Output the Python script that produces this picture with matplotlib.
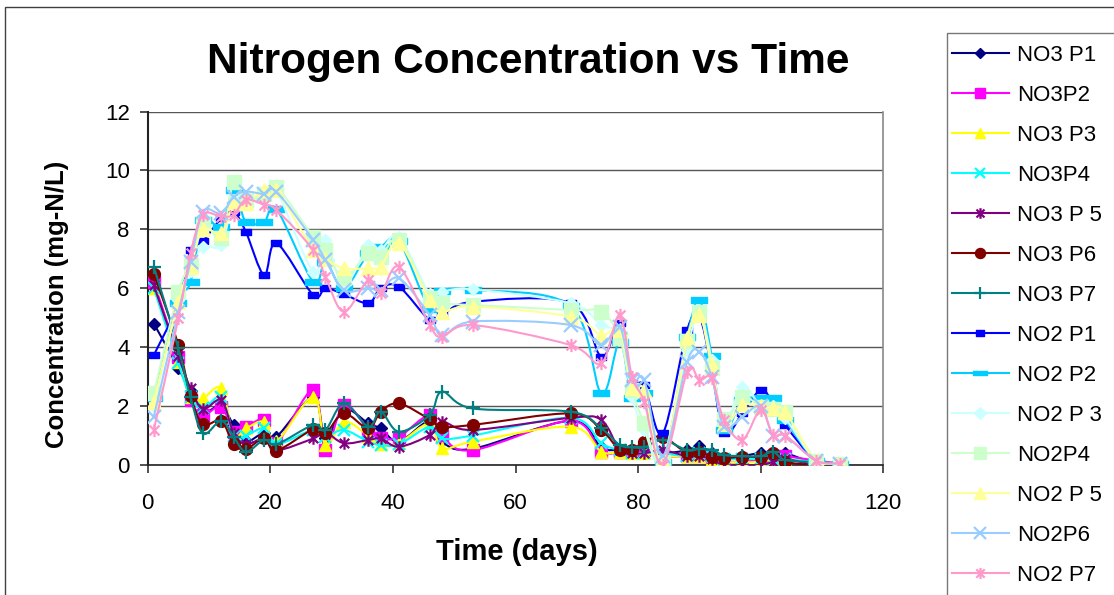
import numpy as np
import matplotlib
matplotlib.use("Agg")
import matplotlib.pyplot as plt
from matplotlib.path import Path
from matplotlib.patches import PathPatch, Rectangle
from matplotlib.lines import Line2D

plt.rcParams['font.family'] = ['Liberation Sans', 'DejaVu Sans']

# sampling days (shared by all series)
days = [1, 5, 7, 9, 12, 14, 16, 19, 21, 27, 29, 32, 36, 38, 41, 46, 48, 53,
        69, 74, 77, 79, 81, 84, 88, 90, 92, 94, 97, 100, 102, 104, 109, 113]

no3_p1 = [4.8, 3.3, 2.5, 1.8, 2.0, 1.36, 0.8, 1.1, 0.96, 2.3, 0.9, 1.9, 1.41, 1.24, 0.8, 1.5, 0.8, 0.55,
          1.5, 0.6, 0.5, 0.4, 0.5, 0.4, 0.5, 0.65, 0.4, 0.2, 0.3, 0.4, 0.3, 0.4, 0.05, 0.05]
no3_p2 = [6.2, 3.68, 2.2, 1.7, 1.98, 1.13, 1.3, 1.53, 0.74, 2.55, 0.51, 2.04, 1.2, 0.9, 0.96, 1.7, 1.0, 0.5,
          1.5, 0.45, 0.45, 0.45, 0.5, 0.3, 0.3, 0.3, 0.2, 0.1, 0.1, 0.2, 0.3, 0.3, 0.15, 0.05]
no3_p3 = [6.0, 3.51, 2.3, 2.26, 2.6, 1.0, 1.24, 1.47, 0.8, 2.32, 0.68, 1.47, 1.0, 0.7, 0.75, 1.41, 0.57, 0.79,
          1.3, 0.45, 0.45, 0.4, 0.4, 0.3, 0.3, 0.3, 0.2, 0.1, 0.1, 0.1, 0.2, 0.2, 0.1, 0.05]
no3_p4 = [6.0, 3.45, 2.3, 1.92, 2.3, 1.0, 1.0, 1.24, 0.7, 1.2, 0.96, 1.19, 0.79, 0.68, 0.7, 1.3, 0.9, 1.0,
          1.6, 0.74, 0.5, 0.4, 0.4, 0.4, 0.3, 0.4, 0.3, 0.2, 0.2, 0.2, 0.2, 0.2, 0.1, 0.05]
no3_p5 = [6.1, 3.7, 2.6, 1.9, 2.2, 1.1, 0.7, 0.9, 0.5, 0.9, 1.1, 0.74, 0.85, 0.9, 0.62, 1.02, 1.47, 1.19,
          1.6, 1.53, 0.5, 0.4, 0.4, 0.5, 0.3, 0.3, 0.2, 0.0, 0.0, 0.0, 0.1, 0.2, 0.0, 0.0]
no3_p6 = [6.5, 4.07, 2.34, 1.39, 1.5, 0.71, 0.54, 0.9, 0.49, 1.21, 1.07, 1.75, 1.24, 1.81, 2.09, 1.55, 1.3, 1.36,
          1.75, 1.19, 0.51, 0.51, 0.79, 0.96, 0.4, 0.45, 0.28, 0.24, 0.28, 0.28, 0.4, 0.11, 0.0, 0.05]
no3_p7 = [6.73, 3.96, 2.3, 1.07, 1.5, 0.96, 0.45, 0.85, 0.7, 1.36, 1.19, 2.09, 1.3, 1.81, 1.13, 1.7, 2.49, 1.92,
          1.81, 1.24, 0.68, 0.6, 0.6, 0.85, 0.5, 0.55, 0.51, 0.34, 0.3, 0.3, 0.45, 0.17, 0.1, 0.05]
no2_p1 = [3.73, 5.5, 7.3, 7.6, 8.37, 8.6, 7.92, 6.45, 7.53, 5.77, 6.0, 5.8, 5.49, 6.0, 6.05, 4.92, 5.09, 5.54,
          5.49, 3.68, 4.81, 2.8, 2.72, 1.07, 4.58, 5.03, 3.28, 1.07, 1.76, 2.55, 2.1, 1.36, 0.15, 0.05]
no2_p2 = [2.27, 5.5, 6.22, 8.3, 8.09, 9.33, 8.26, 8.26, 8.69, 6.22, 6.9, 6.0, 7.2, 7.39, 7.6, 5.3, 5.9, 5.94,
          5.4, 2.43, 4.19, 2.26, 2.43, 0.1, 4.33, 5.6, 3.7, 1.2, 2.2, 2.26, 2.26, 1.53, 0.15, 0.05]
no2_p3 = [2.0, 5.6, 6.6, 7.41, 7.47, 9.0, 9.0, 9.0, 9.3, 6.56, 7.64, 6.1, 7.47, 7.3, 7.75, 5.8, 5.88, 5.96,
          5.49, 4.75, 4.4, 2.3, 1.2, 0.1, 3.9, 5.2, 3.56, 1.4, 2.66, 2.0, 2.0, 1.6, 0.15, 0.05]
no2_p4 = [2.43, 5.88, 6.8, 8.2, 7.7, 9.62, 9.0, 9.2, 9.45, 7.75, 7.3, 6.34, 7.19, 7.07, 7.64, 5.66, 5.49, 5.43,
          5.26, 5.2, 4.3, 2.55, 1.41, 0.1, 4.2, 5.2, 3.28, 1.55, 2.32, 1.98, 1.9, 1.8, 0.15, 0.05]
no2_p5 = [2.15, 5.54, 6.73, 8.0, 7.86, 8.88, 8.9, 9.33, 9.33, 7.3, 7.0, 6.68, 6.68, 6.73, 7.53, 5.6, 5.2, 5.38,
          5.03, 4.41, 4.58, 2.6, 2.55, 0.1, 4.3, 5.1, 3.4, 1.4, 2.04, 2.0, 1.92, 1.81, 0.15, 0.05]
no2_p6 = [1.64, 5.2, 6.9, 8.6, 8.54, 9.1, 9.28, 9.2, 9.28, 7.64, 6.96, 5.94, 6.0, 5.94, 6.34, 5.09, 4.4, 4.87,
          4.75, 4.07, 4.7, 2.88, 2.88, 0.3, 3.5, 3.85, 3.0, 1.3, 1.64, 2.0, 1.0, 1.0, 0.15, 0.05]
no2_p7 = [1.19, 4.98, 7.19, 8.49, 8.43, 8.49, 9.0, 8.83, 8.66, 7.3, 6.39, 5.2, 6.28, 5.83, 6.73, 4.75, 4.36, 4.75,
          4.07, 3.45, 5.09, 3.0, 2.15, 0.0, 3.17, 2.88, 2.94, 1.53, 0.85, 1.87, 1.02, 1.0, 0.15, 0.05]

labels = ['NO3 P1', 'NO3P2', 'NO3 P3', 'NO3P4', 'NO3 P 5', 'NO3 P6', 'NO3 P7',
          'NO2 P1', 'NO2 P2', 'NO2 P 3', 'NO2P4', 'NO2 P 5', 'NO2P6', 'NO2 P7']
values = [no3_p1, no3_p2, no3_p3, no3_p4, no3_p5, no3_p6, no3_p7,
          no2_p1, no2_p2, no2_p3, no2_p4, no2_p5, no2_p6, no2_p7]

# excel-ish marker shapes
star = Path([(0, -1), (0, 1), (-0.75, -0.75), (0.75, 0.75), (-0.75, 0.75), (0.75, -0.75)],
            [Path.MOVETO, Path.LINETO] * 3)
rect_small = Path([(-1, -0.6), (1, -0.6), (1, 0.6), (-1, 0.6), (-1, -0.6)], closed=True)
rect_wide = Path([(-1, -0.32), (1, -0.32), (1, 0.32), (-1, 0.32), (-1, -0.32)], closed=True)

# color, marker, size, edge width
styles = [
    ('#000080', 'D', 6, 1),
    ('#FF00FF', 's', 9, 1),
    ('#FFFF00', '^', 9, 1),
    ('#00FFFF', 'x', 8.5, 1.6),
    ('#800080', star, 9, 1.6),
    ('#800000', 'o', 8.5, 1),
    ('#008080', '+', 9.5, 1.6),
    ('#0000FF', rect_small, 7.5, 1),
    ('#00CCFF', rect_wide, 12, 1),
    ('#CCFFFF', 'D', 6.6, 1),
    ('#CCFFCC', 's', 10.5, 1),
    ('#FFFF99', '^', 10, 1),
    ('#99CCFF', 'x', 9.5, 1.6),
    ('#FF99CC', star, 9.5, 1.6),
]


def smooth_path(x, y):
    # bezier segments like excel's "smoothed line"
    pts = np.column_stack([x, y]).astype(float)
    n = len(pts)
    verts = [pts[0]]
    codes = [Path.MOVETO]
    for i in range(n - 1):
        p0 = pts[max(i - 1, 0)]
        p1 = pts[i]
        p2 = pts[i + 1]
        p3 = pts[min(i + 2, n - 1)]
        verts += [p1 + (p2 - p0) / 6, p2 - (p3 - p1) / 6, p2]
        codes += [Path.CURVE4] * 3
    return Path(verts, codes)


fig = plt.figure(figsize=(11.14, 5.95), dpi=100)
ax = fig.add_axes([147.7 / 1114, 1 - 465 / 595, (883.3 - 147.7) / 1114, (465 - 111.5) / 595])

handles = []
for i, (lab, vals, st) in enumerate(zip(labels, values, styles)):
    color, mk, ms, mew = st
    ax.add_patch(PathPatch(smooth_path(days, vals), facecolor='none', edgecolor=color,
                           lw=1.5, zorder=3 + 2 * i))
    ax.plot(days, vals, linestyle='none', marker=mk, markersize=ms, color=color,
            markeredgecolor=color, markeredgewidth=mew, zorder=4 + 2 * i)
    handles.append(Line2D([], [], color=color, lw=1.5, marker=mk, markersize=ms * 0.85,
                          markeredgecolor=color, markeredgewidth=mew))

ax.set_xlim(0, 120)
ax.set_ylim(0, 12)
ax.set_xticks(np.arange(0, 121, 20))
ax.set_yticks(np.arange(0, 13, 2))
ax.yaxis.grid(True, color='#555555', lw=1.0)
ax.set_axisbelow(True)
ax.tick_params(axis='both', labelsize=16, length=6, width=1.2, direction='out', color='#333333')
ax.tick_params(axis='y', pad=7)
ax.tick_params(axis='x', pad=14)
ax.spines['top'].set_visible(False)
ax.spines['left'].set_color('#222222')
ax.spines['left'].set_linewidth(1.5)
ax.spines['bottom'].set_color('#222222')
ax.spines['bottom'].set_linewidth(1.2)
ax.spines['right'].set_color('#888888')
ax.spines['right'].set_linewidth(1.2)

fig.text(528 / 1114, 1 - 62 / 595, 'Nitrogen Concentration vs Time', fontsize=30.5,
         fontweight='bold', ha='center', va='center')
fig.text(517 / 1114, 1 - 552 / 595, 'Time (days)', fontsize=21, fontweight='bold',
         ha='center', va='center')
fig.text(57 / 1114, 1 - 304 / 595, 'Concentration (mg-N/L)', fontsize=18.5, fontweight='bold',
         ha='center', va='center', rotation=90)

# chart area border and legend box (both run off the canvas)
fig.patches.append(Rectangle((5 / 1114, -0.1), 1.2, 1.1 - 7 / 595, transform=fig.transFigure,
                             fill=False, edgecolor='#404040', lw=1))
fig.patches.append(Rectangle((947 / 1114, -0.1), 0.3, 1.1 - 33 / 595, transform=fig.transFigure,
                             fill=False, edgecolor='#777777', lw=1))

fig.legend(handles, labels, loc='upper left', bbox_to_anchor=(952 / 1114, 1 - 45 / 595),
           frameon=False, fontsize=16, handlelength=2.55, handletextpad=0.36,
           labelspacing=0.855, borderpad=0, borderaxespad=0)

fig.savefig('out.png', dpi=100)
